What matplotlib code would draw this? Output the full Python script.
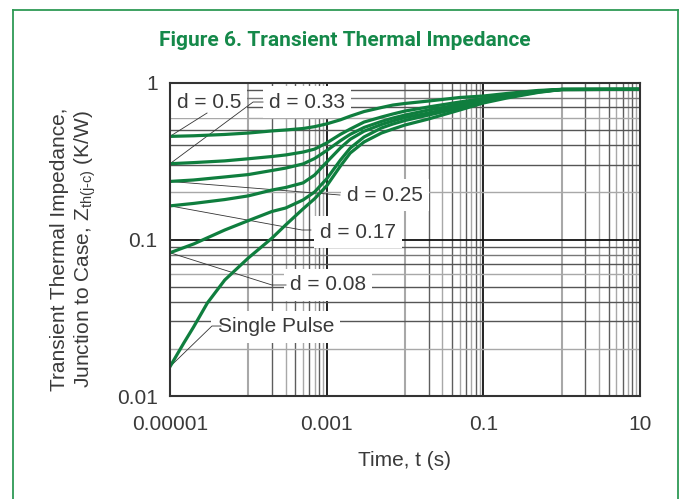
import matplotlib
matplotlib.use("Agg")
import matplotlib.pyplot as plt
from matplotlib.lines import Line2D

## Data (time in s, Zth in K/W)
t_s = [1e-5, 2e-5, 5e-5, 1e-4, 2e-4, 3e-4, 5e-4, 7e-4, 1e-3, 1.5e-3, 2e-3,
       3e-3, 5e-3, 7e-3, 1e-2, 2e-2, 5e-2, 0.1, 0.2, 0.5, 1, 10]
z_d050 = [0.456, 0.460, 0.469, 0.479, 0.494, 0.501, 0.512, 0.526, 0.548, 0.582, 0.614,
          0.657, 0.697, 0.723, 0.740, 0.767, 0.808, 0.826, 0.857, 0.896, 0.911, 0.911]
z_d033 = [0.305, 0.310, 0.318, 0.328, 0.339, 0.347, 0.362, 0.378, 0.414, 0.470, 0.508,
          0.563, 0.606, 0.634, 0.662, 0.703, 0.756, 0.796, 0.838, 0.889, 0.909, 0.911]
z_d025 = [0.235, 0.240, 0.251, 0.260, 0.276, 0.286, 0.304, 0.329, 0.370, 0.428, 0.470,
          0.520, 0.568, 0.597, 0.624, 0.672, 0.729, 0.784, 0.826, 0.882, 0.909, 0.911]
z_d017 = [0.164, 0.170, 0.180, 0.190, 0.207, 0.215, 0.230, 0.258, 0.312, 0.385, 0.437,
          0.492, 0.543, 0.572, 0.602, 0.643, 0.713, 0.773, 0.820, 0.882, 0.909, 0.911]
z_d008 = [0.0823, 0.0936, 0.115, 0.132, 0.151, 0.159, 0.179, 0.201, 0.244, 0.322, 0.384,
          0.452, 0.516, 0.547, 0.576, 0.624, 0.692, 0.756, 0.814, 0.876, 0.909, 0.911]
t_single = [1e-5, 1.5e-5, 2e-5, 3e-5, 5e-5, 1e-4, 2e-4, 3e-4, 5e-4, 7e-4, 1e-3, 1.5e-3,
            2e-3, 3e-3, 5e-3, 7e-3, 1e-2, 2e-2, 5e-2, 0.1, 0.2, 0.5, 1, 10]
z_single = [0.0154, 0.0218, 0.0276, 0.0393, 0.0551, 0.0762, 0.102, 0.124, 0.157, 0.182,
            0.220, 0.295, 0.357, 0.420, 0.479, 0.508, 0.539, 0.589, 0.672, 0.745,
            0.802, 0.870, 0.909, 0.911]

curve_labels = ["d = 0.5", "d = 0.33", "d = 0.25", "d = 0.17", "d = 0.08", "Single Pulse"]

x_ticks = [1e-5, 1e-3, 1e-1, 10]
x_ticklabels = ["0.00001", "0.001", "0.1", "10"]
y_ticks = [0.01, 0.1, 1]
y_ticklabels = ["0.01", "0.1", "1"]

## Style
GREEN = "#0f7e3e"
TXT = "#3a3a3a"
FONT = "Liberation Sans"
plt.rcParams["font.family"] = [FONT, "DejaVu Sans"]
plt.rcParams["mathtext.fontset"] = "custom"
plt.rcParams["mathtext.rm"] = FONT

fig = plt.figure(figsize=(6.81, 4.99), dpi=100)
ax = fig.add_axes([170/681, 1-396/499, 470/681, 313/499])
ax.set_xscale("log")
ax.set_yscale("log")
ax.set_xlim(1e-5, 10)
ax.set_ylim(0.01, 1)

## graph-paper style grid: minor verticals only in every other decade
for dec in [1e-4, 1e-2, 1]:
    for k in range(1, 10):
        col = "#a8a8a8" if k % 2 == 1 else "#5e5e5e"
        lw = 1.5 if k == 1 else 1.0
        ax.axvline(k*dec, color=col, lw=lw, zorder=1)
for dec in [1e-3, 1e-1]:
    ax.axvline(dec, color="#222222", lw=1.4, zorder=1)

hcols = {2: "#a8a8a8", 3: "#555555", 4: "#555555", 5: "#555555",
         6: "#a8a8a8", 7: "#555555", 8: "#777777", 9: "#555555"}
for dec in [0.01, 0.1]:
    for k in range(2, 10):
        ax.axhline(k*dec, color=hcols[k], lw=1.0, zorder=1)
ax.axhline(0.1, color="#111111", lw=1.3, zorder=1)

## curves
series = [(t_s, z_d050), (t_s, z_d033), (t_s, z_d025), (t_s, z_d017),
          (t_s, z_d008), (t_single, z_single)]
for tt, zz in series:
    ax.plot(tt, zz, color=GREEN, lw=2.3, zorder=5, solid_joinstyle="round")

## labels with white boxes and thin leader lines
# (text position, leader path) in data coordinates
label_pos = [(3.15e-5, 0.756), (5.6e-4, 0.756), (5.6e-3, 0.1924),
             (2.5e-3, 0.1116), (1.04e-3, 0.0512), (2.25e-4, 0.0276)]
leaders = [[(2.97e-5, 0.643)],
           [(1.15e-4, 0.756), (1.54e-4, 0.756)],
           [(1.48e-3, 0.1924)],
           [(4.84e-4, 0.115), (6.3e-4, 0.115)],
           [(2.0e-4, 0.0512), (3.03e-4, 0.0512)],
           [(3.43e-5, 0.028), (4.48e-5, 0.028)]]
for (tt, zz), lab, pos, path in zip(series, curve_labels, label_pos, leaders):
    ax.text(pos[0], pos[1], lab, fontsize=15, color=TXT, ha="center", va="center",
            zorder=3, bbox=dict(boxstyle="square,pad=0.3", fc="white", ec="none"))
    xs = [tt[0]] + [p[0] for p in path]
    ys = [zz[0]] + [p[1] for p in path]
    ax.plot(xs, ys, color="#333333", lw=0.6, zorder=4)

for s in ax.spines.values():
    s.set_color("#333333")
    s.set_linewidth(1.5)
    s.set_zorder(6)

ax.set_xticks(x_ticks)
ax.set_xticklabels(x_ticklabels)
ax.set_yticks(y_ticks)
ax.set_yticklabels(y_ticklabels)
ax.minorticks_off()
ax.tick_params(axis="both", length=0, labelsize=15, labelcolor=TXT)
ax.tick_params(axis="x", pad=14)
ax.tick_params(axis="y", pad=9)

ax.set_xlabel("Time, t (s)", fontsize=15, color=TXT, labelpad=12)
fig.text(74/681, 1-249/499,
         "Transient Thermal Impedance,\nJunction to Case, Z$_{\\text{th(j-c)}}$ (K/W)",
         rotation=90, ha="center", va="center", fontsize=15, color=TXT,
         multialignment="center", linespacing=1.2)

fig.text(345/681, 1-41/499, "Figure 6. Transient Thermal Impedance",
         ha="center", va="center", fontsize=15, fontweight="bold", color="#15894a",
         family=["Roboto", "DejaVu Sans"])

## green frame around the figure panel (open at the bottom)
bc = "#2e9a55"
fig.add_artist(Line2D([13/681, 13/681], [0, 1-10/499], color=bc, lw=1.3))
fig.add_artist(Line2D([678/681, 678/681], [0, 1-10/499], color=bc, lw=1.3))
fig.add_artist(Line2D([13/681, 678/681], [1-10/499, 1-10/499], color=bc, lw=1.3))

fig.savefig("out.png", dpi=100)
